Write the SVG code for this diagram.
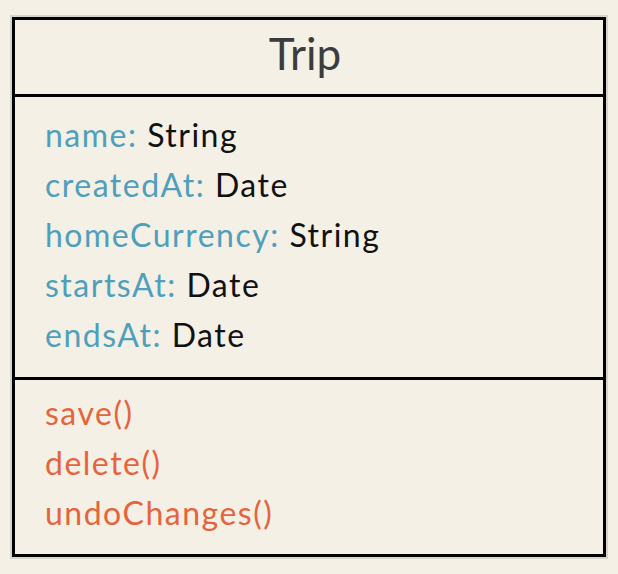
<svg xmlns="http://www.w3.org/2000/svg" width="618" height="574" viewBox="0 0 618 574">
<style>
text{font-family:Lato,"Noto Sans",sans-serif;font-size:32px;letter-spacing:1.5px}
.a{fill:#4f9fbc}.t{fill:#111}.m{fill:#e5643c}
.title{font-size:44px;fill:#3c3c3c;letter-spacing:0}
</style>
<rect width="618" height="574" fill="#f4f0e5"/>
<g id="trip">
<rect x="11" y="16" width="596" height="542" fill="none" stroke="#d6d3cb" stroke-width="2"/>
<rect x="13.5" y="18.5" width="591" height="537" fill="#f4f0e5" stroke="#000" stroke-width="3"/>
<line x1="13" y1="95.5" x2="605" y2="95.5" stroke="#000" stroke-width="3"/>
<line x1="13" y1="378.5" x2="605" y2="378.5" stroke="#000" stroke-width="3"/>
<text class="title" x="305" y="70" text-anchor="middle">Trip</text>
<text x="45" y="147"><tspan class="a">name:</tspan><tspan class="t"> String</tspan></text>
<text x="45" y="197"><tspan class="a">createdAt:</tspan><tspan class="t"> Date</tspan></text>
<text x="45" y="247"><tspan class="a">homeCurrency:</tspan><tspan class="t"> String</tspan></text>
<text x="45" y="297"><tspan class="a">startsAt:</tspan><tspan class="t"> Date</tspan></text>
<text x="45" y="347"><tspan class="a">endsAt:</tspan><tspan class="t"> Date</tspan></text>
<text class="m" x="45" y="425">save()</text>
<text class="m" x="45" y="475">delete()</text>
<text class="m" x="45" y="525">undoChanges()</text>
</g>
</svg>
